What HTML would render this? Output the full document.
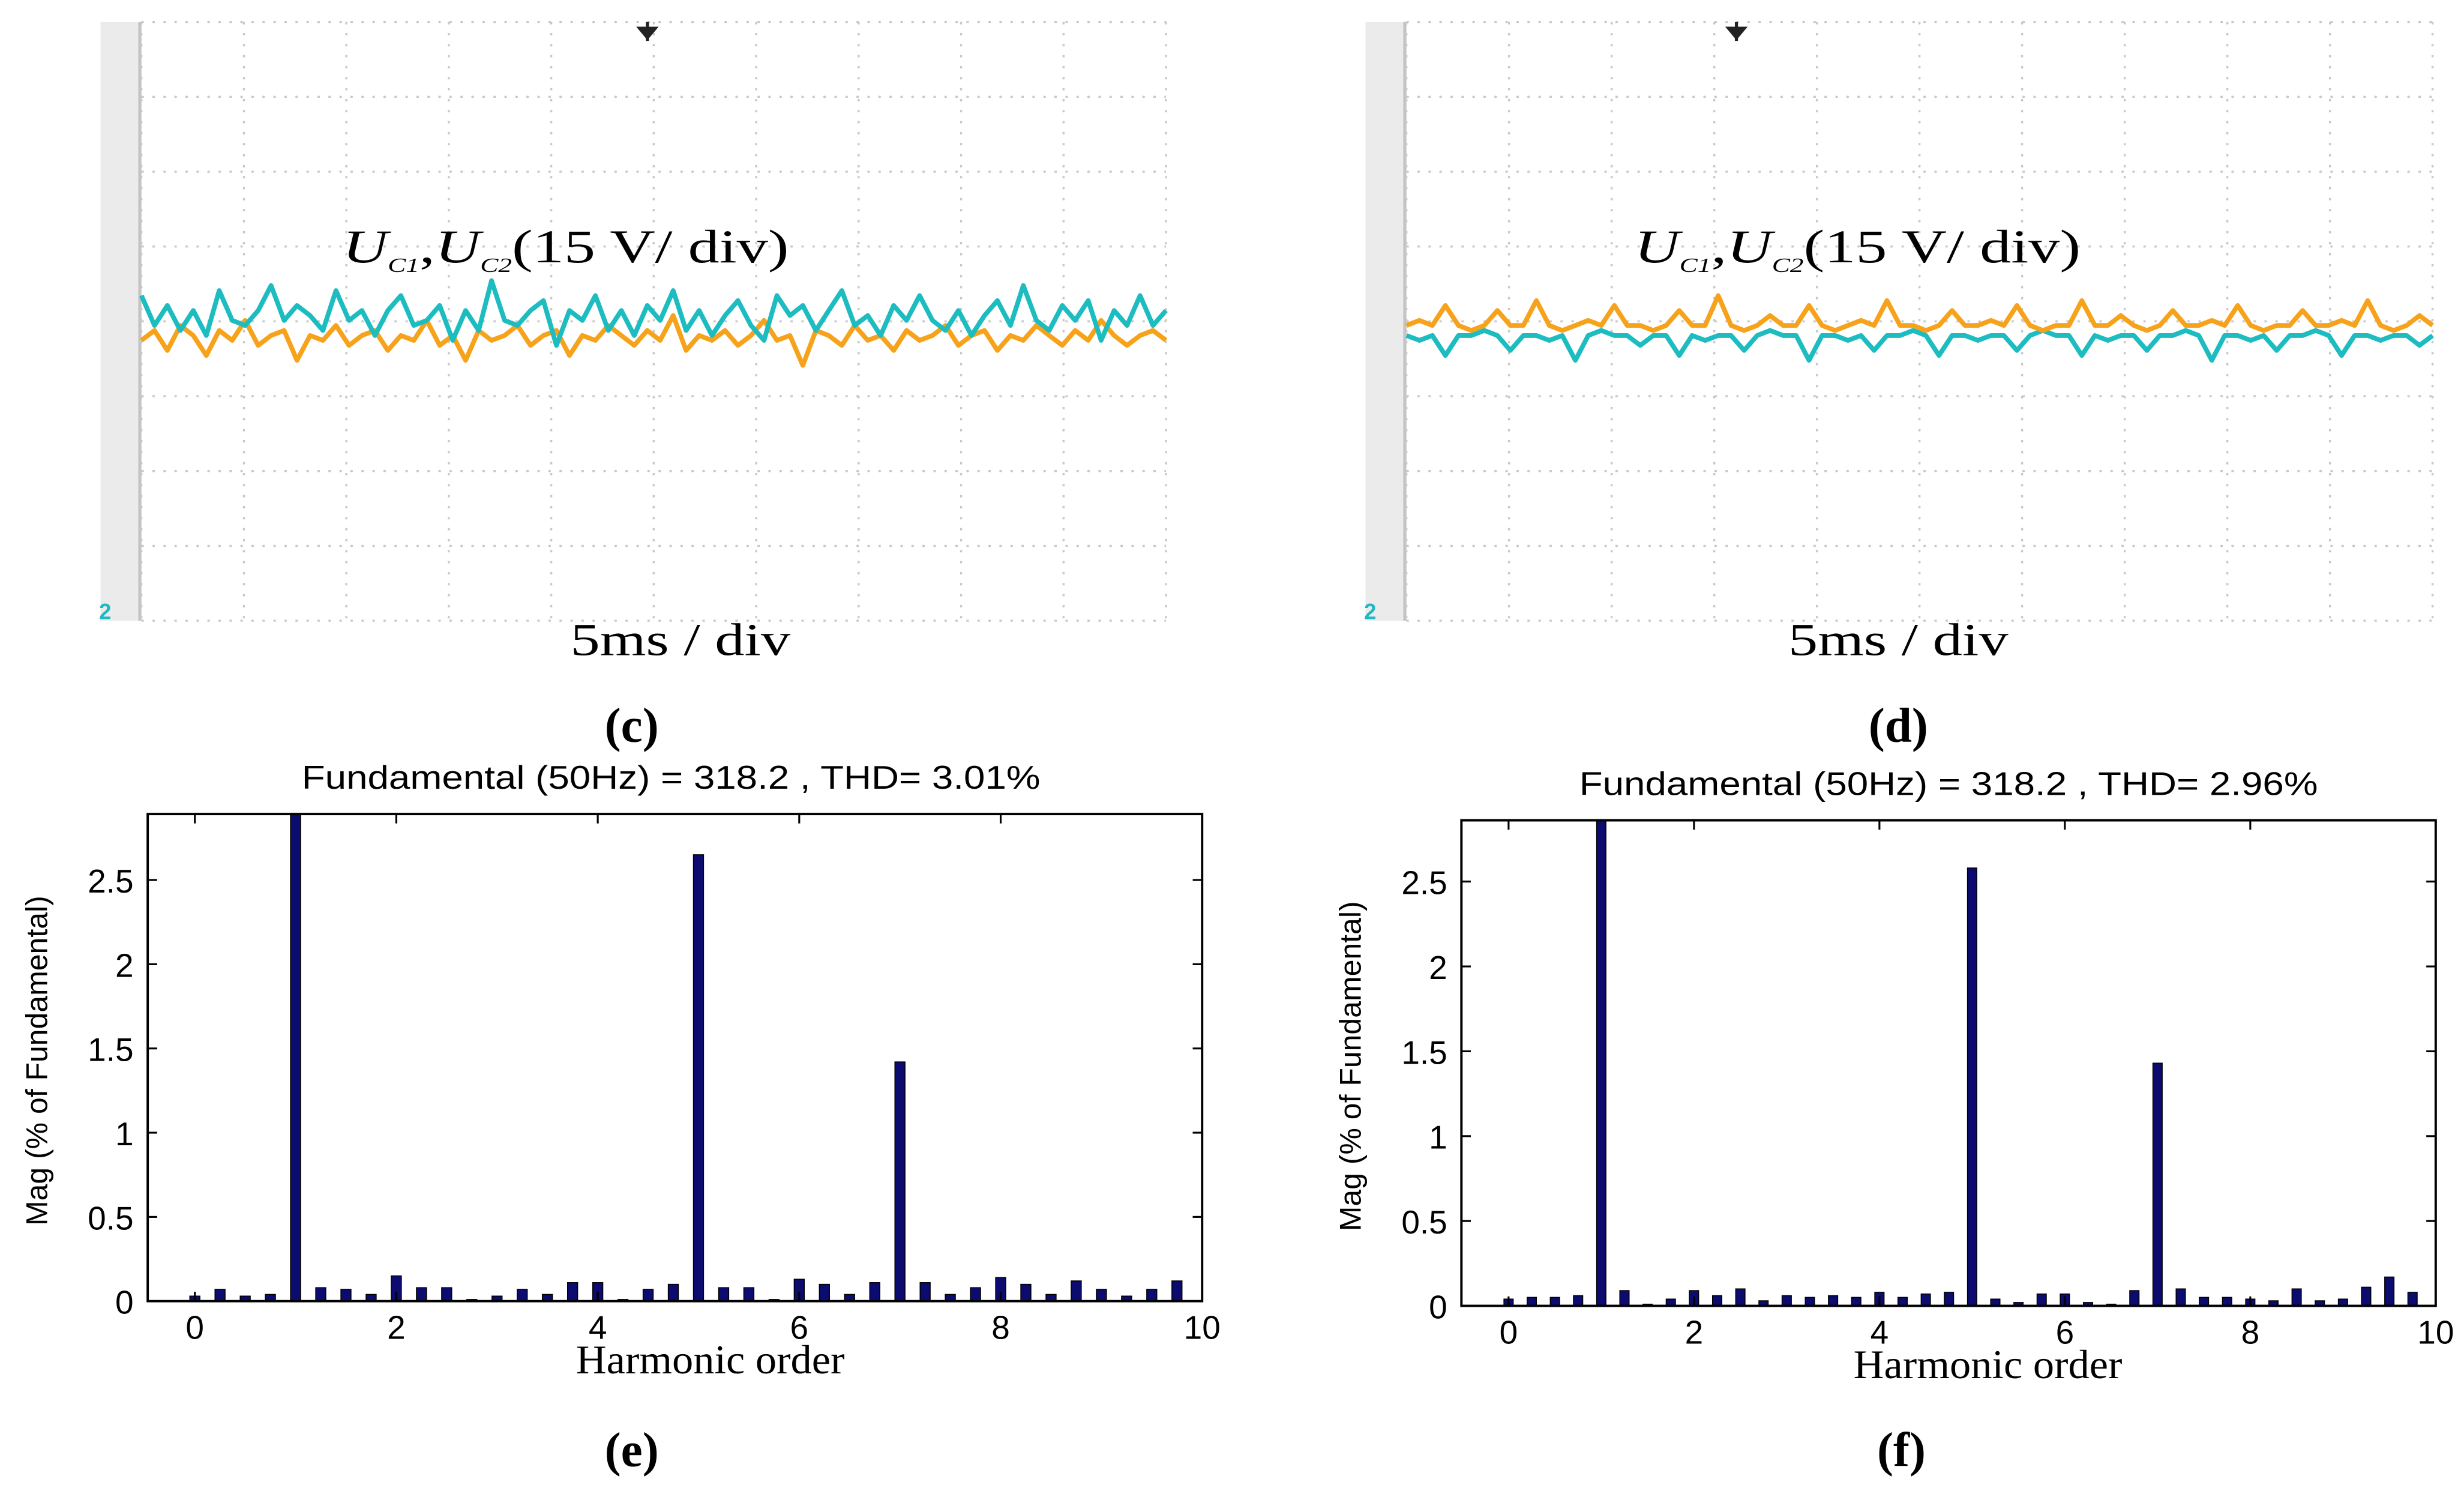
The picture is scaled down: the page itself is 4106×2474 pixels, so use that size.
<!DOCTYPE html>
<html><head><meta charset="utf-8"><style>
html,body{margin:0;padding:0;background:#fff;}
svg{display:block;}
</style></head><body>
<svg id="fig" width="4106" height="2474" viewBox="0 0 1568 945" preserveAspectRatio="none" xmlns="http://www.w3.org/2000/svg">
<rect x="0" y="0" width="1568" height="945" fill="#fff"/>
<g id="scopeC"></g>
<g id="scopeD"></g>
<g id="barE"></g>
<g id="barF"></g>
</svg>
<script>
// ---- oscilloscope data (volts, 15 V/div) ----
const cyanC = [63,57,61,56,60,55,64,58,57,60,65,58,61,59,56,64,58,60,55,60,63,57,58,61,54,60,56,66,58,57,60,62,53,60,58,63,56,60,55,61,58,64,56,60,55,59,62,57,54,63,59,61,56,60,64,57,59,55,61,58,63,58,56,60,55,59,62,57,65,58,56,61,58,62,54,60,57,63,57,60];
const orangeC = [54,56,52,57,55,51,56,54,58,53,55,56,50,55,54,57,53,55,56,52,55,54,58,53,55,50,56,54,55,57,53,55,56,51,55,54,57,55,53,56,54,59,52,55,54,56,53,55,58,54,55,49,56,55,53,57,54,55,52,56,54,55,57,53,55,56,52,55,54,57,55,53,56,54,58,55,53,55,56,54];
const orangeD = [57,58,57,61,57,56,57,60,57,57,62,57,56,57,58,57,61,57,57,56,57,60,57,57,63,57,56,57,59,57,57,61,57,56,57,58,57,62,57,57,56,57,60,57,57,58,57,61,57,56,57,57,62,57,57,59,57,56,57,60,57,57,58,57,61,57,56,57,57,60,57,57,58,57,62,57,56,57,59,57];
const cyanD = [55,54,55,51,55,55,56,55,52,55,55,54,55,50,55,56,55,55,53,55,55,51,55,54,55,55,52,55,56,55,55,50,55,55,54,55,52,55,55,56,55,51,55,55,54,55,55,52,55,56,55,55,51,55,54,55,55,52,55,55,56,55,50,55,55,54,55,52,55,55,56,55,51,55,55,54,55,55,53,55];
// ---- harmonic spectrum data (% of fundamental) ----
const harmonicOrders = [0,0.25,0.5,0.75,1,1.25,1.5,1.75,2,2.25,2.5,2.75,3,3.25,3.5,3.75,4,4.25,4.5,4.75,5,5.25,5.5,5.75,6,6.25,6.5,6.75,7,7.25,7.5,7.75,8,8.25,8.5,8.75,9,9.25,9.5,9.75];
const magE = [0.03,0.07,0.03,0.04,2.9,0.08,0.07,0.04,0.15,0.08,0.08,0.01,0.03,0.07,0.04,0.11,0.11,0.01,0.07,0.10,2.65,0.08,0.08,0.01,0.13,0.10,0.04,0.11,1.42,0.11,0.04,0.08,0.14,0.10,0.04,0.12,0.07,0.03,0.07,0.12];
const magF = [0.04,0.05,0.05,0.06,2.9,0.09,0.01,0.04,0.09,0.06,0.10,0.03,0.06,0.05,0.06,0.05,0.08,0.05,0.07,0.08,2.58,0.04,0.02,0.07,0.07,0.02,0.01,0.09,1.43,0.10,0.05,0.05,0.04,0.03,0.10,0.03,0.04,0.11,0.17,0.08];
const xTicks = [0,2,4,6,8,10];
const yTicks = [0,0.5,1,1.5,2,2.5];
const yTickLabels = ["0","0.5","1","1.5","2","2.5"];

const NS="http://www.w3.org/2000/svg";
function mk(parent, tag, attrs, text){
  const e=document.createElementNS(NS,tag);
  for(const k in attrs) e.setAttribute(k,attrs[k]);
  if(text!==undefined) e.textContent=text;
  parent.appendChild(e); return e;
}

function scope(gid, x0, x1, series, trigX, lx, tcx, letter, lcx){
  const g=document.getElementById(gid);
  const y0=14, y1=395, gnd=388, pxPerV=47.6/15;
  let r=mk(g,'rect',{x:x0-26,y:y0,width:26,height:y1-y0,fill:'#ebebeb'});
  
  
  mk(g,'line',{x1:x0-1,y1:y0,x2:x0-1,y2:y1,stroke:'#c4c4c4','stroke-width':2});
  const w=(x1-x0)/10, h=(y1-y0)/8;
  for(let i=0;i<=10;i++){
    const l=mk(g,'line',{x1:x0+i*w,y1:y0,x2:x0+i*w,y2:y1,stroke:'#c8c8c8','stroke-width':1.3,'stroke-dasharray':'1.5 5.5'});
    
    
  }
  for(let j=0;j<=8;j++){
    const l=mk(g,'line',{x1:x0,y1:y0+j*h,x2:x1,y2:y0+j*h,stroke:'#c8c8c8','stroke-width':1.3,'stroke-dasharray':'1.5 5.5'});
    
    
  }
  const trig=mk(g,'path',{d:`M${trigX} ${y0} v12 M${trigX-5} ${y0+4} h10 l-5 6 z`,stroke:'#222','stroke-width':2,fill:'#222'});
  
  
  const gm=mk(g,'text',{x:x0-27,y:gnd+6,'font-family':'Liberation Sans, sans-serif','font-size':14,'font-weight':'bold',fill:'#1fb8c4'},'2');
  
  
  series.forEach(s=>{
    const n=s.data.length;
    const pts=s.data.map((v,i)=>`${(x0+i*(x1-x0)/(n-1)).toFixed(1)},${(gnd-v*pxPerV).toFixed(1)}`).join(' ');
    const p=mk(g,'polyline',{points:pts,fill:'none',stroke:s.color,'stroke-width':3,'stroke-linejoin':'round'});
    
    
  });
  const t=mk(g,'text',{x:lx,y:167,'font-family':'Liberation Serif, serif','font-size':30,fill:'#000',textLength:284,lengthAdjust:'spacingAndGlyphs'});
  
  
  t.innerHTML='<tspan font-style="italic">U</tspan><tspan font-style="italic" font-size="13" dy="6">C1</tspan><tspan dy="-6">,</tspan><tspan font-style="italic">U</tspan><tspan font-style="italic" font-size="13" dy="6">C2</tspan><tspan dy="-6">(15 V/ div)</tspan>';
  const ts=mk(g,'text',{x:tcx,y:417,'text-anchor':'middle','font-family':'Liberation Serif, serif','font-size':29,fill:'#000',textLength:140,lengthAdjust:'spacingAndGlyphs'},'5ms / div');
  
  
  const pl=mk(g,'text',{x:lcx,y:472,'text-anchor':'middle','font-family':'Liberation Serif, serif','font-size':31,'font-weight':'bold',fill:'#000'},'('+letter+')');
  
  
}

function bars(gid, ax0, ax1, ay0, ay1, xZero, yPerUnit, mags, title, tcx, xlcx, letter, lcx){
  const g=document.getElementById(gid);
  const xPerUnit=(ax1-xZero)/10;
  const X=v=>xZero+v*xPerUnit, Y=v=>ay1-v*yPerUnit;
  const tt=mk(g,'text',{x:tcx,y:ay0-16,'text-anchor':'middle','font-family':'Liberation Sans, sans-serif','font-size':21,fill:'#000',textLength:470,lengthAdjust:'spacingAndGlyphs'},title);
  
  
  const bw=0.1*xPerUnit;
  harmonicOrders.forEach((h,i)=>{
    const top=Math.max(Y(mags[i]),ay0);
    const b=mk(g,'rect',{x:X(h)-bw/2,y:top,width:bw,height:ay1-top,fill:'#0b0b70',stroke:'#000','stroke-width':0.6});
    
    
  });
  const fr=mk(g,'rect',{x:ax0,y:ay0,width:ax1-ax0,height:ay1-ay0,fill:'none',stroke:'#000','stroke-width':1.5});
  
  
  xTicks.forEach(t=>{
    mk(g,'line',{x1:X(t),y1:ay1,x2:X(t),y2:ay1-6,stroke:'#000','stroke-width':1.2});
    mk(g,'line',{x1:X(t),y1:ay0,x2:X(t),y2:ay0+6,stroke:'#000','stroke-width':1.2});
    const l=mk(g,'text',{x:X(t),y:ay1+24,'text-anchor':'middle','font-family':'Liberation Sans, sans-serif','font-size':21,fill:'#000'},String(t));
    
    
  });
  yTicks.forEach((t,i)=>{
    mk(g,'line',{x1:ax0,y1:Y(t),x2:ax0+6,y2:Y(t),stroke:'#000','stroke-width':1.2});
    mk(g,'line',{x1:ax1,y1:Y(t),x2:ax1-6,y2:Y(t),stroke:'#000','stroke-width':1.2});
    const l=mk(g,'text',{x:ax0-9,y:Y(t)+8,'text-anchor':'end','font-family':'Liberation Sans, sans-serif','font-size':21,fill:'#000'},yTickLabels[i]);
    
    
  });
  const yl=mk(g,'text',{x:0,y:0,'text-anchor':'middle','font-family':'Liberation Sans, sans-serif','font-size':19,fill:'#000',textLength:210,lengthAdjust:'spacingAndGlyphs',transform:`translate(${ax0-64},${(ay0+ay1)/2+2}) rotate(-90)`},'Mag (% of Fundamental)');
  
  
  const xl=mk(g,'text',{x:xlcx,y:ay1+46,'text-anchor':'middle','font-family':'Liberation Serif, serif','font-size':26,fill:'#000',textLength:171,lengthAdjust:'spacingAndGlyphs'},'Harmonic order');
  
  
  const pl=mk(g,'text',{x:lcx,y:933,'text-anchor':'middle','font-family':'Liberation Serif, serif','font-size':31,'font-weight':'bold',fill:'#000'},'('+letter+')');
  
  
}

scope('scopeC',90,742,[{data:orangeC,color:'#f7a21b',name:'trace-uc2-orange'},{data:cyanC,color:'#1cbcc0',name:'trace-uc1-cyan'}],412,218,433,'c',402);
scope('scopeD',895,1548,[{data:cyanD,color:'#1cbcc0',name:'trace-uc2-cyan'},{data:orangeD,color:'#f7a21b',name:'trace-uc1-orange'}],1105,1040,1208,'d',1208);
bars('barE',94,765,518,828,124,107.2,magE,'Fundamental (50Hz) = 318.2 , THD= 3.01%',427,452,'e',402);
bars('barF',930,1550,522,831,960,108,magF,'Fundamental (50Hz) = 318.2 , THD= 2.96%',1240,1265,'f',1210);
</script>
</body></html>
